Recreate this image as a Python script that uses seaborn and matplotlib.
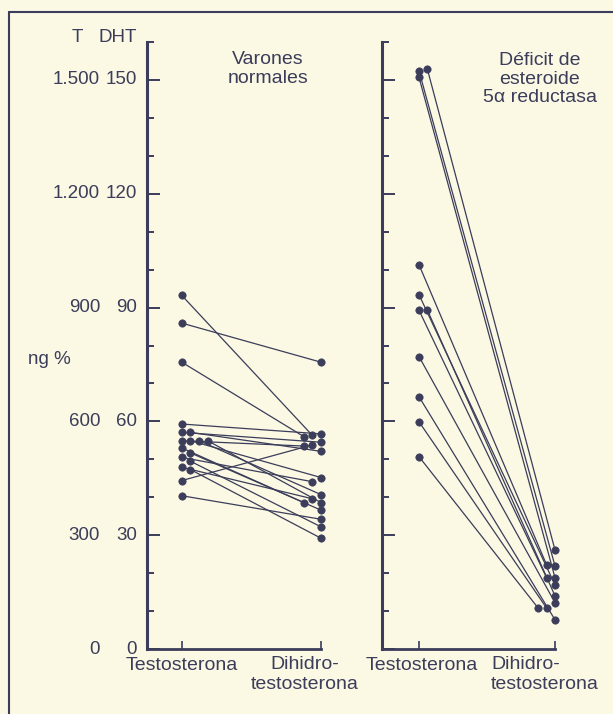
import numpy as np
import pandas as pd
import matplotlib.pyplot as plt
import seaborn as sns
from matplotlib.lines import Line2D
from matplotlib.ticker import MultipleLocator
from matplotlib.transforms import blended_transform_factory

# paired values, T in ng %, DHT in ng %  (one pair per subject)
normal_t = [593, 571, 571, 932, 756, 444, 549, 859, 549, 505, 549, 479, 549, 530, 517, 404, 495, 473]
normal_dht = [56.7, 54.5, 52.1, 56.3, 56.0, 53.8, 53.5, 75.6, 45.2, 44.1, 40.7, 39.6, 38.6, 38.6, 36.6, 34.2, 32.2, 29.2]
deficit_t = [1524, 1528, 1507, 1013, 934, 893, 893, 771, 665, 599, 507]
deficit_dht = [21.9, 26.1, 18.8, 22.2, 16.9, 18.8, 14.0, 12.2, 7.7, 10.8, 10.8]

categories = ["Testosterona", "Dihidro-\ntestosterona"]
titles = ["Varones\nnormales", "Déficit de\nesteroide\n5α reductasa"]
t_ticklabels = ["0", "300", "600", "900", "1.200", "1.500"]
dht_ticklabels = ["0", "30", "60", "90", "120", "150"]

bg = "#fbf8e4"
ink = "#3b3d5a"

sns.set_style("ticks")
plt.rcParams["font.family"] = ["Liberation Sans", "DejaVu Sans"]


def dodge(values, tol=1.6):
    # side-by-side slot for dots that would overlap
    slots = []
    for i, v in enumerate(values):
        used = {slots[j] for j in range(i) if abs(values[j] - v) < tol}
        s = 0
        while s in used:
            s += 1
        slots.append(s)
    return np.array(slots)


def long_table(t, dht):
    t_plot = np.array(t) / 10.0
    dht = np.array(dht)
    n = len(t_plot)
    x_t = 0 + 0.062 * dodge(t_plot)
    x_d = 1 - 0.062 * dodge(dht)
    return pd.DataFrame({"subject": list(range(n)) * 2,
                         "x": np.r_[x_t, x_d],
                         "y": np.r_[t_plot, dht]})


W, H = 613, 714
fig = plt.figure(figsize=(W / 100, H / 100), dpi=100, facecolor=bg)

y0_px, ytop_px = 649, 42
ax1 = fig.add_axes([147 / W, (H - y0_px) / H, (321 - 147) / W, (y0_px - ytop_px) / H])
ax2 = fig.add_axes([382 / W, (H - y0_px) / H, (555 - 382) / W, (y0_px - ytop_px) / H])

panels = [(ax1, normal_t, normal_dht, -0.25), (ax2, deficit_t, deficit_dht, -0.272)]
for ax, t, dht, xmin in panels:
    df = long_table(t, dht)
    ax.set_facecolor(bg)
    sns.lineplot(data=df, x="x", y="y", units="subject", estimator=None,
                 color=ink, lw=0.9, ax=ax, legend=False)
    sns.scatterplot(data=df, x="x", y="y", color=ink, edgecolor=ink, s=28,
                    linewidth=0.5, ax=ax, legend=False, clip_on=False, zorder=3)
    ax.set_xlim(xmin, 1.0)
    ax.set_ylim(0, 160)
    ax.set_xlabel("")
    ax.set_ylabel("")
    for side in ["top", "right"]:
        ax.spines[side].set_visible(False)
    ax.spines["left"].set_linewidth(2.2)
    ax.spines["bottom"].set_linewidth(2.0)
    ax.spines["left"].set_color(ink)
    ax.spines["bottom"].set_color(ink)
    ax.yaxis.set_major_locator(MultipleLocator(30))
    ax.yaxis.set_minor_locator(MultipleLocator(10))
    ax.tick_params(axis="y", which="major", direction="in", length=9, width=1.4,
                   color=ink, labelleft=False)
    ax.tick_params(axis="y", which="minor", direction="in", length=5, width=1.4,
                   color=ink)
    ax.set_xticks([0, 1])
    ax.tick_params(axis="x", direction="in", length=6, width=1.2, color=ink,
                   labelbottom=False)

# y tick labels in two columns (T and DHT)
tr = blended_transform_factory(fig.transFigure, ax1.transData)
for tl, dl in zip(t_ticklabels, dht_ticklabels):
    v = float(dl)
    fig.text(100 / W, v, tl, transform=tr, ha="right", va="center",
             fontsize=13.5, color=ink)
    fig.text(137 / W, v, dl, transform=tr, ha="right", va="center",
             fontsize=13.5, color=ink)

fig.text(77 / W, 1 - 38 / H, "T", ha="center", va="center", fontsize=13.5, color=ink)
fig.text(137 / W, 1 - 38 / H, "DHT", ha="right", va="center", fontsize=13.5, color=ink)
fig.text(28 / W, 1 - 360 / H, "ng %", ha="left", va="center", fontsize=13.5, color=ink)

# panel titles
fig.text(268 / W, 1 - 69 / H, titles[0], ha="center", va="center",
         fontsize=14, color=ink, linespacing=1.2)
fig.text(540 / W, 1 - 79 / H, titles[1], ha="center", va="center",
         fontsize=14, color=ink, linespacing=1.1)

# category labels
fig.text(182 / W, 1 - 666 / H, categories[0], ha="center", va="center",
         fontsize=14, color=ink)
fig.text(305 / W, 1 - 656 / H, categories[1], ha="center", va="top",
         fontsize=14, color=ink, linespacing=1.2)
fig.text(422 / W, 1 - 666 / H, categories[0], ha="center", va="center",
         fontsize=14, color=ink)
fig.text(491 / W, 1 - 656 / H, categories[1], ha="left", va="top",
         fontsize=14, color=ink, linespacing=1.2, multialignment="left")

# page frame
fig.add_artist(Line2D([8.5 / W, 8.5 / W], [0, 1 - 12 / H], color=ink, lw=1.5))
fig.add_artist(Line2D([8.5 / W, 1], [1 - 12 / H, 1 - 12 / H], color=ink, lw=1.5))

fig.savefig("out.png", dpi=100, facecolor=bg)
